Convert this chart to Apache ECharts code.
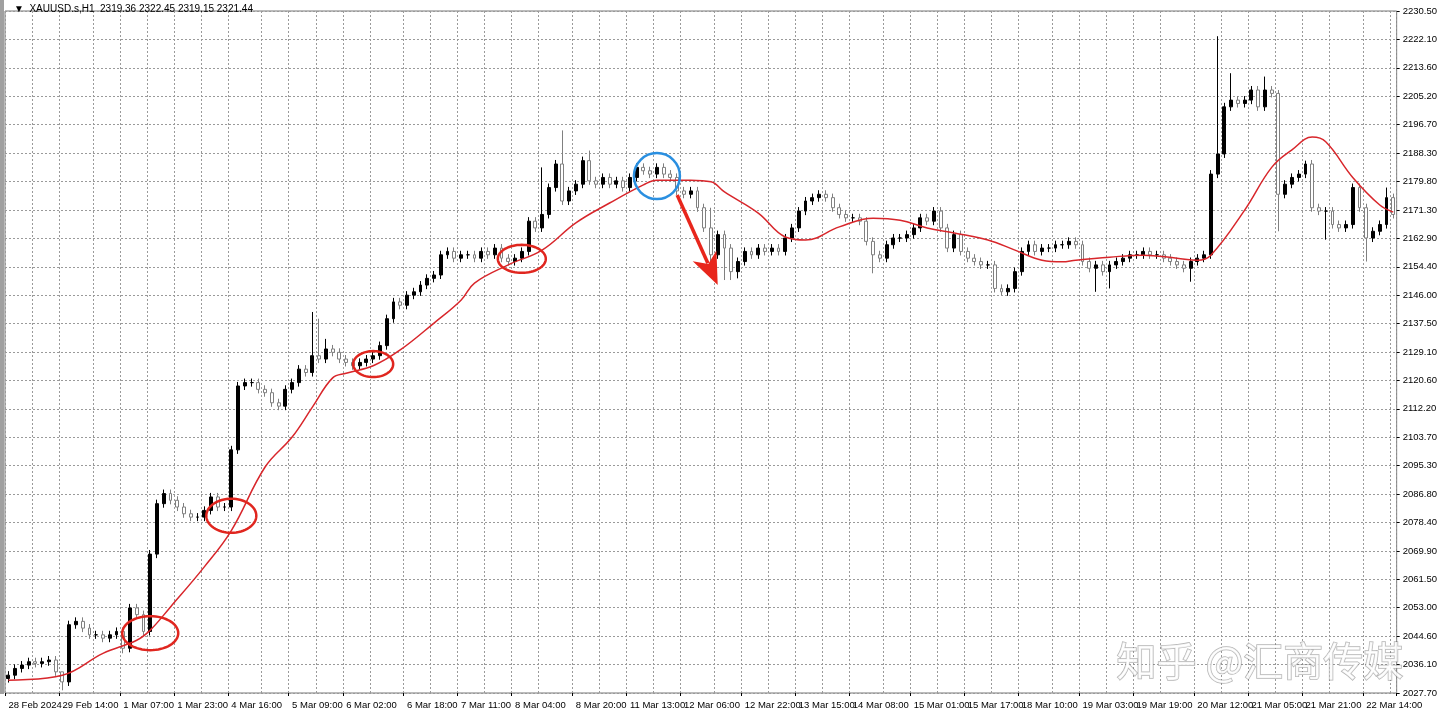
<!DOCTYPE html>
<html><head><meta charset="utf-8">
<script src="https://cdn.jsdelivr.net/npm/echarts@6/dist/echarts.min.js"></script>
<style>html,body{margin:0;padding:0;background:#fff}#c{width:1440px;height:722px}</style>
</head><body><div id="c"></div>
<script>
const closes = [
2033,2035,2036,2037,2036.5,2037,2037.5,2034,2031,2048,
2049,2047,2045,2045,2044,2045,2046,2041,2053,2051,
2046,2069,2084,2087,2085,2083,2081,2080,2080,2082,
2086,2083,2083,2100,2119,2120,2120,2118,2117,2114,
2113,2118,2120,2124,2123,2128,2127,2130,2129,2127,
2126,2125,2126,2127,2128,2131,2139,2144,2143,2146,
2147,2149,2151,2152,2158,2159,2157,2158,2158,2157,
2159,2158,2160,2157,2156,2157,2159,2168,2166,2170,
2178,2185,2174,2177,2179,2186,2180,2179,2181,2179,
2180,2178,2181,2184,2183,2182,2184,2182,2181,2177,
2176,2177,2172,2166,2158,2164,2160,2153,2156,2159,
2158,2160,2159,2160,2159,2163,2166,2171,2174,2175,
2176,2175,2172,2170,2169,2169,2168,2162,2158,2157,
2161,2163,2163,2164,2166,2169,2168,2171,2166,2160,
2164,2159,2157,2156,2155,2155,2148,2147,2148,2153,
2159,2161,2159,2160,2160,2161,2161,2162,2161,2156,
2154,2155,2153,2155,2156,2157,2158,2158,2159,2158,
2158,2157,2156,2155,2154,2156,2157,2158,2182,2188,
2202,2204,2203,2204,2207,2202,2207,2206,2176,2179,
2181,2182,2185,2172,2171,2171,2167,2166,2167,2178,
2172,2163,2165,2167,2175,2170];
const firstOpen = 2032;
const highSpikes = [[8,2034],[45,2141],[46,2139],[47,2133],[79,2184],[82,2195],[86,2189],[104,2172],[179,2223],[181,2212],[186,2211],[188,2207],[192,2186],[204,2178]];
const lowSpikes = [[8,2028.5],[17,2039.5],[104,2152],[106,2150.5],[107,2150.5],[108,2151],[128,2152.5],[147,2146],[161,2147],[163,2148],[175,2150],[188,2165],[195,2162.5],[201,2156]];
const maPoints = [[0,2031.5],[8,2033],[14,2039.5],[19,2043.4],[21,2046.4],[24,2053.3],[29,2065.2],[33,2076],[38,2094.9],[42,2103.8],[45,2112.7],[48,2121.4],[50,2122.8],[54,2125],[58,2129.7],[63,2137.7],[67,2144.5],[69,2149.6],[74,2155],[79,2159.4],[84,2167.5],[89,2173.4],[94,2178.8],[96,2180.2],[101,2180.2],[104,2179.7],[106,2176.7],[111,2170.4],[115,2163.3],[118,2162.4],[123,2166.3],[128,2168.9],[132,2168.3],[136,2166],[140,2164.5],[145,2162.4],[149,2159.4],[153,2156.4],[156,2155.9],[158,2156.4],[163,2157.3],[168,2157.9],[173,2157],[176,2156.4],[178,2157.9],[183,2171.3],[187,2184],[190,2189.2],[193,2193],[195,2191.6],[199,2181],[203,2172.8],[205,2170.7]];
const xTickLabels = ['28 Feb 2024','29 Feb 14:00','1 Mar 07:00','1 Mar 23:00','4 Mar 16:00','5 Mar 09:00','6 Mar 02:00','6 Mar 18:00','7 Mar 11:00','8 Mar 04:00','8 Mar 20:00','11 Mar 13:00','12 Mar 06:00','12 Mar 22:00','13 Mar 15:00','14 Mar 08:00','15 Mar 01:00','15 Mar 17:00','18 Mar 10:00','19 Mar 03:00','19 Mar 19:00','20 Mar 12:00','21 Mar 05:00','21 Mar 21:00','22 Mar 14:00'];
const yTickLabels = ['2027.70','2036.10','2044.60','2053.00','2061.50','2069.90','2078.40','2086.80','2095.30','2103.70','2112.20','2120.60','2129.10','2137.50','2146.00','2154.40','2162.90','2171.30','2179.80','2188.30','2196.70','2205.20','2213.60','2222.10','2230.50'];
const titleText = '\u25BC  XAUUSD.s,H1  2319.36 2322.45 2319.15 2321.44';
const watermark = '知乎 @汇商传媒';

// ---- build ----
const N = closes.length;
const cats = closes.map((_, i) => String(i));
const hiMap = new Map(highSpikes), loMap = new Map(lowSpikes);
const ohlc = closes.map((c, i) => {
  const o = i === 0 ? firstOpen : closes[i-1];
  const h = hiMap.has(i) ? hiMap.get(i) : Math.max(o, c) + 1.2;
  const l = loMap.has(i) ? loMap.get(i) : Math.min(o, c) - 1.2;
  return [o, c, l, h];
});
const maData = new Array(N).fill(null);
maPoints.forEach(([i, v]) => { maData[i] = v; });
const STEP = 8.36;
const labelIdx = new Map();
xTickLabels.forEach((t, k) => labelIdx.set(Math.round(k * STEP), t));
const gridIdx = new Set();
for (let k = 0; k * STEP / 2 < N; k++) gridIdx.add(Math.round(k * STEP / 2));

const chart = echarts.init(document.getElementById('c'));
const font = 'Liberation Sans, Arial, sans-serif';
chart.setOption({
  animation: false,
  backgroundColor: '#fff',
  grid: { left: 5, right: 43, top: 11, bottom: 29, show: true, borderColor: '#777', borderWidth: 1 },
  xAxis: {
    type: 'category', data: cats, boundaryGap: true,
    axisLine: { show: false },
    axisTick: { show: true, interval: (i) => labelIdx.has(i), length: 3, lineStyle: { color: '#000' } },
    axisLabel: { interval: (i) => labelIdx.has(i), showMinLabel: true, hideOverlap: false, formatter: (v, i) => labelIdx.get(i) || '', align: 'left', color: '#000', fontSize: 9.5, fontFamily: font, margin: 7 },
    splitLine: { show: true, interval: (i) => gridIdx.has(i), lineStyle: { color: '#9a9a9a', type: [2, 2], width: 1 } }
  },
  yAxis: {
    type: 'value', position: 'right', min: 2027.7, max: 2230.5, interval: 8.45, scale: true,
    axisLine: { show: false }, axisTick: { show: true, length: 3, lineStyle: { color: '#000' } },
    axisLabel: { color: '#000', fontSize: 9.5, fontFamily: font, margin: 6,
      formatter: (v) => yTickLabels[Math.round((v - 2027.7) / 8.45)] || '' },
    splitLine: { lineStyle: { color: '#9a9a9a', type: [2, 2], width: 1 } }
  },
  series: [
    { type: 'candlestick', data: ohlc, barMaxWidth: 4,
      itemStyle: { color: '#000', color0: '#fff', borderColor: '#000', borderColor0: '#808080', borderWidth: 1 } },
    { type: 'line', data: maData, connectNulls: true, smooth: 0.4, showSymbol: false, symbol: 'none',
      lineStyle: { color: '#d8262b', width: 1.5 }, z: 3 }
  ]
});

function ellipse(cx, cy, rx, ry) {
  const pts = [];
  for (let a = 0; a < 64; a++) { const t = a / 64 * Math.PI * 2; pts.push([cx + rx * Math.cos(t), cy + ry * Math.sin(t)]); }
  return { type: 'polygon', shape: { points: pts }, style: { fill: 'none', stroke: '#e0261f', lineWidth: 2.5 }, z: 100 };
}
const P = (i, v) => chart.convertToPixel({ gridIndex: 0 }, [i, v]);
const e1 = P(20.7, 2045.5), e2 = P(33, 2080.4), e3 = P(53.5, 2125.5), e4 = P(76, 2156.8), b1 = P(96, 2181.4);
const a0 = P(99.3, 2175.8), a1 = P(105.2, 2149);
const dx = a1[0] - a0[0], dy = a1[1] - a0[1], len = Math.hypot(dx, dy), ux = dx / len, uy = dy / len;
const hb = [a1[0] - ux * 32, a1[1] - uy * 32];
chart.setOption({ graphic: [
  { type: 'rect', shape: { x: 0, y: 0, width: 4, height: 694 }, style: { fill: '#a0a0a0' }, z: 90 },
  { type: 'text', left: 14, top: 4, style: { text: titleText, fontSize: 10, fontFamily: font, fill: '#000' }, z: 100 },
  ellipse(e1[0], e1[1], 28, 17), ellipse(e2[0], e2[1], 25, 17), ellipse(e3[0], e3[1], 20, 13), ellipse(e4[0], e4[1], 24, 14),
  { type: 'circle', shape: { cx: b1[0], cy: b1[1], r: 23 }, style: { fill: 'none', stroke: '#2a8fe0', lineWidth: 2.5 }, z: 100 },
  { type: 'line', shape: { x1: a0[0], y1: a0[1], x2: hb[0] + ux * 8, y2: hb[1] + uy * 8 }, style: { stroke: '#e8261c', lineWidth: 3.5 }, z: 100 },
  { type: 'polygon', shape: { points: [[a1[0], a1[1]], [hb[0] - uy * 13, hb[1] + ux * 13], [hb[0] + ux * 9, hb[1] + uy * 9], [hb[0] + uy * 13, hb[1] - ux * 13]] }, style: { fill: '#e8261c' }, z: 100 },
  { type: 'text', right: 36, bottom: 40, style: { text: watermark, fontSize: 40, fontFamily: 'Noto Sans CJK SC', fill: 'rgba(255,255,255,0.85)', stroke: 'rgba(120,120,120,0.55)', lineWidth: 1.5 }, z: 100 }
]});
</script></body></html>
